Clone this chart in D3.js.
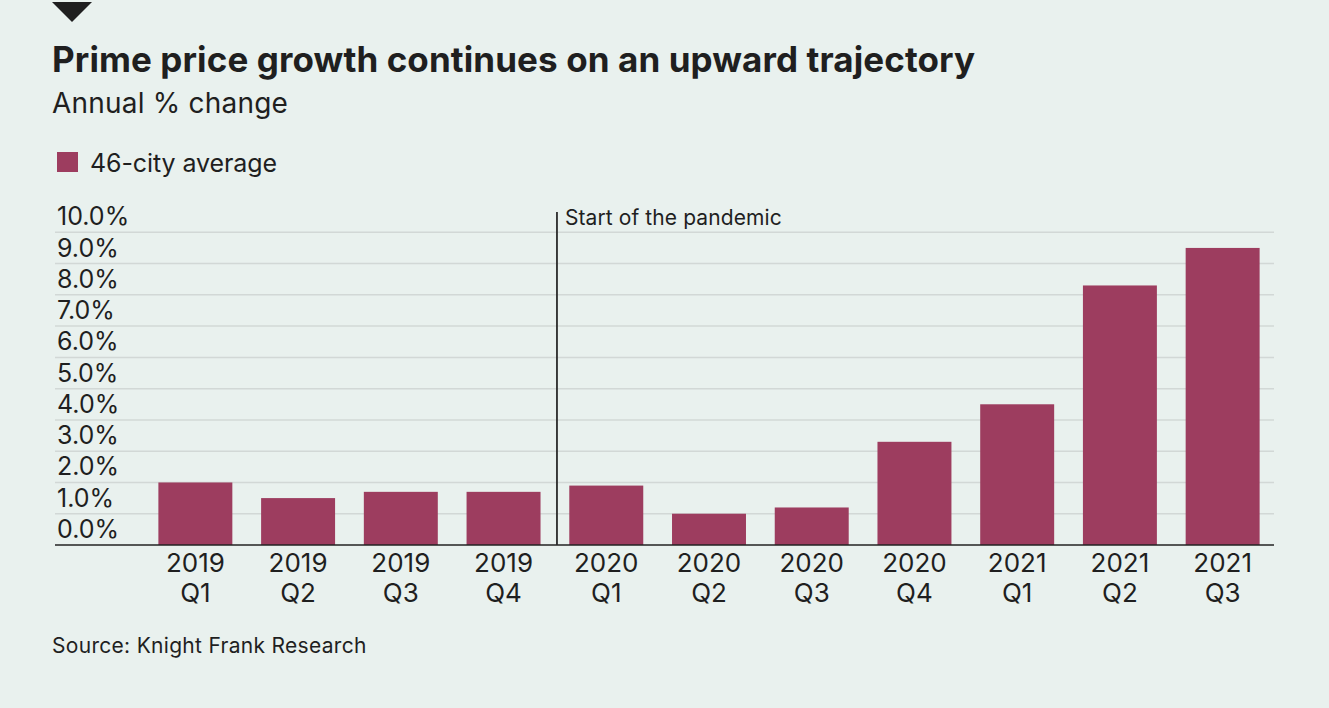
<!DOCTYPE html>
<html>
<head>
<meta charset="utf-8">
<script src="https://cdn.jsdelivr.net/npm/d3@7"></script>
<style>
  html, body { margin: 0; padding: 0; background: #e9f1ee; }
  svg { display: block; }
  text { font-family: Inter, "Noto Sans", sans-serif; fill: #1f1f1f; }
</style>
</head>
<body>
<div id="chart"></div>
<script>
// data
const categories = ["2019 Q1", "2019 Q2", "2019 Q3", "2019 Q4", "2020 Q1", "2020 Q2",
                    "2020 Q3", "2020 Q4", "2021 Q1", "2021 Q2", "2021 Q3"];
const values = [2.0, 1.5, 1.7, 1.7, 1.9, 1.0, 1.2, 3.3, 4.5, 8.3, 9.5];
const yTicks = [0, 1, 2, 3, 4, 5, 6, 7, 8, 9, 10];
const seriesName = "46-city average";
const markerCategory = "2020 Q1";
const markerLabel = "Start of the pandemic";

const width = 1329, height = 708;
const barColor = "#9d3d5f";

const svg = d3.select("#chart").append("svg")
    .attr("width", width)
    .attr("height", height)
    .attr("viewBox", [0, 0, width, height]);

svg.append("rect").attr("width", width).attr("height", height).attr("fill", "#e9f1ee");

// little marker triangle at the top
svg.append("path")
    .attr("d", "M52,2 L92,2 L72,22 Z")
    .attr("fill", "#1f1f1f");

// headings
svg.append("text")
    .attr("x", 52).attr("y", 72)
    .attr("font-size", 35)
    .attr("font-weight", 700)
    .attr("letter-spacing", "0.1px")
    .text("Prime price growth continues on an upward trajectory");

svg.append("text")
    .attr("x", 52).attr("y", 113)
    .attr("font-size", 28)
    .attr("letter-spacing", "0.2px")
    .text("Annual % change");

// legend
svg.append("rect")
    .attr("x", 57).attr("y", 152)
    .attr("width", 21).attr("height", 20)
    .attr("fill", barColor);
svg.append("text")
    .attr("x", 90).attr("y", 172)
    .attr("font-size", 25)
    .attr("letter-spacing", "-0.1px")
    .text(seriesName);

// scales
const x = d3.scaleBand()
    .domain(categories)
    .range([144, 1274])
    .paddingInner(0.28)
    .paddingOuter(0.14);

const y = d3.scaleLinear()
    .domain([0, 10])
    .range([545, 232.3]);

const gridLeft = 55, gridRight = 1274;

// gridlines
svg.append("g")
    .selectAll("line")
    .data(yTicks.filter(d => d > 0))
    .join("line")
    .attr("x1", gridLeft).attr("x2", gridRight)
    .attr("y1", d => y(d)).attr("y2", d => y(d))
    .attr("stroke", "#d2d8d6")
    .attr("stroke-width", 1.5);

// y tick labels sit just above their gridline
svg.append("g")
    .selectAll("text")
    .data(yTicks)
    .join("text")
    .attr("x", 57)
    .attr("y", d => y(d) - 7)
    .attr("font-size", 25)
    .attr("letter-spacing", "0px")
    .text(d => d3.format(".1f")(d) + "%");

// bars
svg.append("g")
    .selectAll("rect")
    .data(values)
    .join("rect")
    .attr("x", (d, i) => x(categories[i]))
    .attr("width", x.bandwidth())
    .attr("y", d => y(d))
    .attr("height", d => y(0) - y(d))
    .attr("fill", barColor);

// baseline
svg.append("line")
    .attr("x1", gridLeft).attr("x2", gridRight)
    .attr("y1", y(0)).attr("y2", y(0))
    .attr("stroke", "#222")
    .attr("stroke-width", 1.5);

// x labels, two lines each
const xLabels = svg.append("g")
    .selectAll("text")
    .data(categories)
    .join("text")
    .attr("text-anchor", "middle")
    .attr("font-size", 26);
xLabels.append("tspan")
    .attr("x", d => x(d) + x.bandwidth() / 2)
    .attr("y", 572)
    .text(d => d.split(" ")[0]);
xLabels.append("tspan")
    .attr("x", d => x(d) + x.bandwidth() / 2)
    .attr("y", 602)
    .text(d => d.split(" ")[1]);

// pandemic marker
const mx = x(markerCategory) - x.step() * 0.12;
svg.append("line")
    .attr("x1", mx).attr("x2", mx)
    .attr("y1", 212).attr("y2", y(0))
    .attr("stroke", "#2a2a2a")
    .attr("stroke-width", 1.8);
svg.append("text")
    .attr("x", mx + 8).attr("y", 225)
    .attr("font-size", 21)
    .attr("letter-spacing", "0.1px")
    .text(markerLabel);

// source
svg.append("text")
    .attr("x", 52).attr("y", 653)
    .attr("font-size", 21)
    .attr("letter-spacing", "0.3px")
    .text("Source: Knight Frank Research");
</script>
</body>
</html>
